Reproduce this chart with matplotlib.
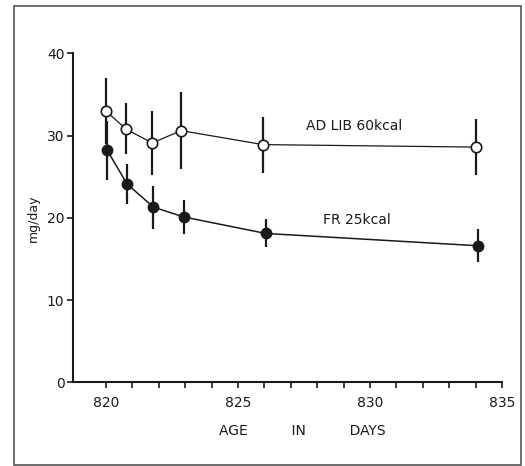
import matplotlib
matplotlib.use("Agg")
import matplotlib.pyplot as plt
from matplotlib.patches import Rectangle

# 数据
adlib_days = [820.0, 820.75, 821.75, 822.85, 825.95, 834.0]
adlib_vals = [33.0, 30.8, 29.1, 30.6, 28.9, 28.6]
adlib_err = [4.0, 3.1, 3.9, 4.7, 3.4, 3.4]

fr_days = [820.05, 820.8, 821.8, 822.95, 826.05, 834.1]
fr_vals = [28.2, 24.1, 21.3, 20.1, 18.1, 16.6]
fr_err = [3.6, 2.4, 2.6, 2.1, 1.7, 2.0]

x_ticks = [820, 825, 830, 835]
x_minor = list(range(820, 836))
y_ticks = [0, 10, 20, 30, 40]

plt.rcParams['font.family'] = ['DejaVu Sans']
ink = "#1a1a1a"

fig = plt.figure(figsize=(5.25, 4.66), dpi=100)
ax = fig.add_axes([0.1385, 0.1796, 0.8175, 0.706])

# 外框
fig.patches.append(Rectangle((13.5 / 525, 1 / 466), (521 - 13.5) / 525, (460 - 1) / 466,
                             transform=fig.transFigure, fill=False,
                             edgecolor="#555555", linewidth=1.2))

# 误差线
ax.errorbar(adlib_days, adlib_vals, yerr=adlib_err, fmt='none', ecolor=ink,
            elinewidth=1.6, capsize=0, zorder=2)
ax.errorbar(fr_days, fr_vals, yerr=fr_err, fmt='none', ecolor=ink,
            elinewidth=1.6, capsize=0, zorder=2)

# 折线与点
ax.plot(adlib_days, adlib_vals, color=ink, linewidth=0.9, marker='o',
        markersize=7.5, markerfacecolor='white', markeredgecolor=ink,
        markeredgewidth=1.2, zorder=3)
ax.plot(fr_days, fr_vals, color=ink, linewidth=1.1, marker='o',
        markersize=7.5, markerfacecolor=ink, markeredgecolor=ink, zorder=3)

ax.text(829.4, 31.2, "AD LIB 60kcal", fontsize=10, color=ink, ha='center', va='center')
ax.text(829.5, 19.7, "FR 25kcal", fontsize=10, color=ink, ha='center', va='center')

ax.set_xlim(818.74, 835)
ax.set_ylim(0, 40)
ax.set_xticks(x_ticks)
ax.set_xticks(x_minor, minor=True)
ax.set_yticks(y_ticks)

for s in ['top', 'right']:
    ax.spines[s].set_visible(False)
for s in ['left', 'bottom']:
    ax.spines[s].set_linewidth(1.5)
    ax.spines[s].set_color(ink)

ax.tick_params(axis='both', which='both', direction='out', length=4, width=1.2,
               colors=ink, labelsize=10)
ax.tick_params(axis='x', pad=6)
ax.tick_params(axis='y', pad=2)

ax.set_ylabel("mg/day", fontsize=9, color=ink, labelpad=5)
ax.set_xlabel("AGE          IN          DAYS", fontsize=10, color=ink, labelpad=10)
ax.xaxis.label.set_x(0.536)

fig.savefig("out.png", dpi=100)
